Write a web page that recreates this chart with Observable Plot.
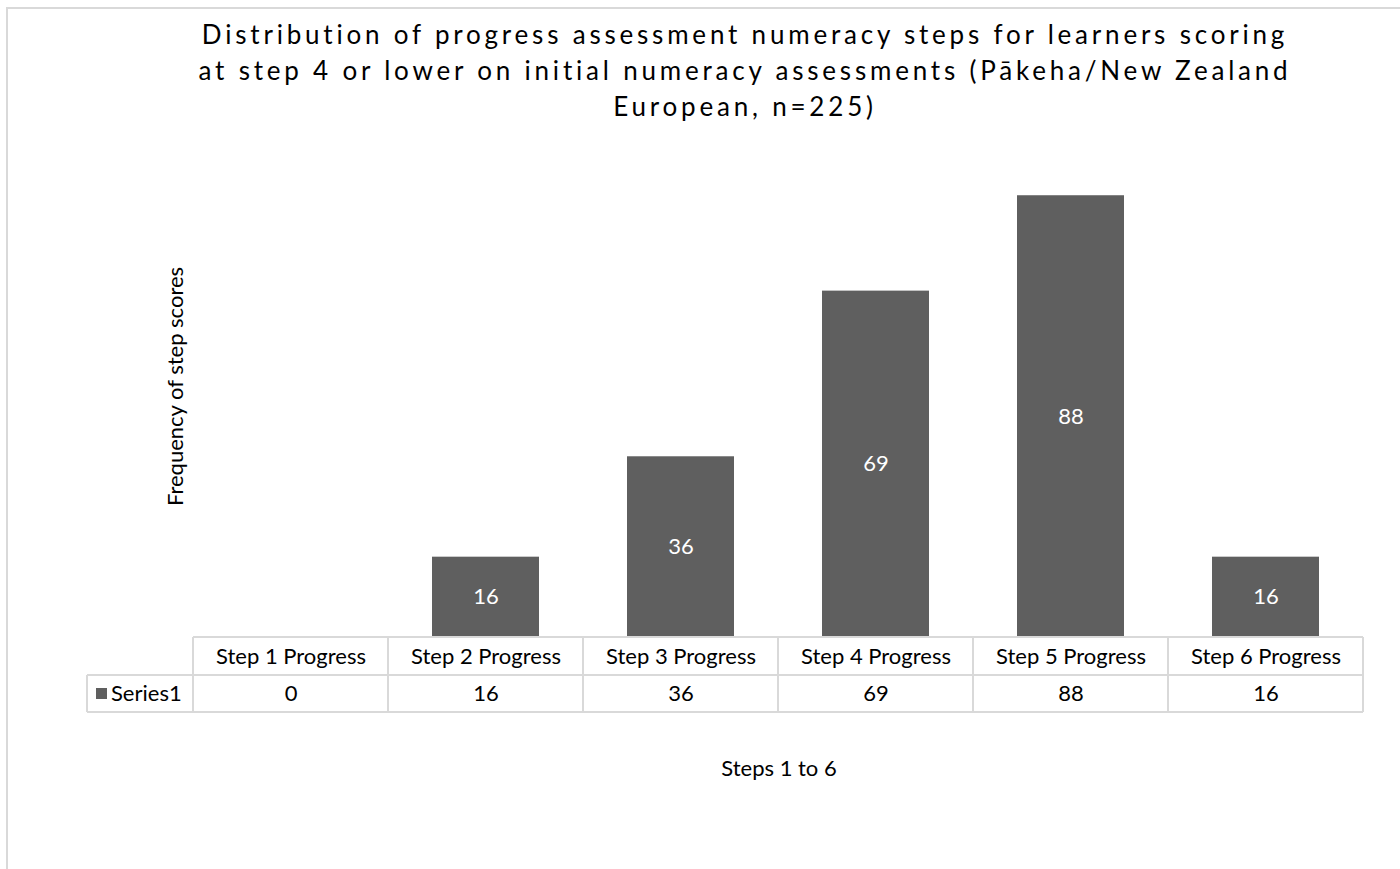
<!DOCTYPE html>
<html>
<head>
<meta charset="utf-8">
<script src="https://cdn.jsdelivr.net/npm/d3@7"></script>
<script src="https://cdn.jsdelivr.net/npm/@observablehq/plot@0.6"></script>
<style>
  html, body { margin: 0; padding: 0; background: #fff; }
  #chart { position: relative; width: 1400px; height: 869px; overflow: hidden; }
  #chart svg { display: block; }
</style>
</head>
<body>
<div id="chart"></div>
<script>
const categories = ["Step 1 Progress", "Step 2 Progress", "Step 3 Progress", "Step 4 Progress", "Step 5 Progress", "Step 6 Progress"];
const values = [0, 16, 36, 69, 88, 16];
const seriesName = "Series1";
const titleText = "Distribution of progress assessment numeracy steps for learners scoring\nat step 4 or lower on initial numeracy assessments (Pākeha/New Zealand\nEuropean, n=225)";
const yLabel = "Frequency of step scores";
const xLabel = "Steps 1 to 6";

const data = categories.map((c, i) => ({cat: c, value: values[i]}));
const FONT = "Lato, 'Open Sans', sans-serif";
const barColor = "#5f5f5f";
const lineColor = "#d9d9d9";
const FS = 22;

const chart = Plot.plot({
  width: 1400,
  height: 869,
  marginTop: 135,
  marginBottom: 232,
  marginLeft: 193,
  marginRight: 36,
  style: {fontFamily: FONT, background: "#fff", overflow: "visible"},
  x: {domain: categories, paddingInner: 0.45, paddingOuter: 0.225, axis: null},
  y: {domain: [0, 100], axis: null},
  marks: [
    Plot.barY(data, {x: "cat", y: "value", fill: barColor}),
    Plot.text(data.filter(d => d.value > 0), {x: "cat", y: d => d.value / 2, text: d => String(d.value), fill: "#fff", fontSize: FS}),
    Plot.text(data, {x: "cat", frameAnchor: "bottom", lineAnchor: "middle", dy: 19, text: "cat", fill: "#000", fontSize: FS}),
    Plot.text(data, {x: "cat", frameAnchor: "bottom", lineAnchor: "middle", dy: 56, text: d => String(d.value), fill: "#000", fontSize: FS}),
    Plot.text([yLabel], {frameAnchor: "left", textAnchor: "middle", lineAnchor: "middle", dx: -18, rotate: -90, fill: "#000", fontSize: FS}),
    Plot.text([xLabel], {frameAnchor: "bottom", lineAnchor: "middle", dy: 131, fill: "#000", fontSize: FS}),
    Plot.text([titleText], {frameAnchor: "top", dy: -67, dx: -34, lineHeight: 1.385, fill: "#000", fontSize: 26, lineAnchor: "middle"})
  ]
});

document.getElementById("chart").appendChild(chart);

// Title letter spacing
d3.select(chart).selectAll("text").filter(function() { return this.textContent.startsWith("Distribution"); })
  .style("letter-spacing", "3.8px");

// Outer chart border (left and top visible)
const svg = d3.select(chart);
svg.append("rect").attr("x", 7).attr("y", 8).attr("width", 1500).attr("height", 1000)
  .attr("fill", "none").attr("stroke", lineColor).attr("stroke-width", 2);

// Data table built from the library's x scale
const xs = chart.scale("x");
const step = xs.step;
const x0 = xs.apply(categories[0]) - (step - xs.bandwidth) / 2;
const xEnd = x0 + step * categories.length;
const yBase = chart.scale("y").apply(0);
const rowH1 = 38, rowH2 = 37;
const legendX = 87;
const g = svg.append("g").attr("stroke", lineColor).attr("stroke-width", 2);
g.append("line").attr("x1", x0).attr("x2", xEnd).attr("y1", yBase).attr("y2", yBase);
g.append("line").attr("x1", legendX).attr("x2", xEnd).attr("y1", yBase + rowH1).attr("y2", yBase + rowH1);
g.append("line").attr("x1", legendX).attr("x2", xEnd).attr("y1", yBase + rowH1 + rowH2).attr("y2", yBase + rowH1 + rowH2);
g.append("line").attr("x1", legendX).attr("x2", legendX).attr("y1", yBase + rowH1).attr("y2", yBase + rowH1 + rowH2);
for (let i = 0; i <= categories.length; i++) {
  const xx = x0 + step * i;
  g.append("line").attr("x1", xx).attr("x2", xx).attr("y1", yBase).attr("y2", yBase + rowH1 + rowH2);
}
// Legend key in table
svg.append("rect").attr("x", 96).attr("y", yBase + rowH1 + 13).attr("width", 11).attr("height", 11).attr("fill", barColor);
svg.append("text").attr("x", 111).attr("y", yBase + rowH1 + rowH2 / 2).attr("dy", "0.35em")
  .attr("text-anchor", "start")
  .attr("font-family", FONT).attr("font-size", FS).attr("fill", "#000").text(seriesName);
</script>
</body>
</html>
